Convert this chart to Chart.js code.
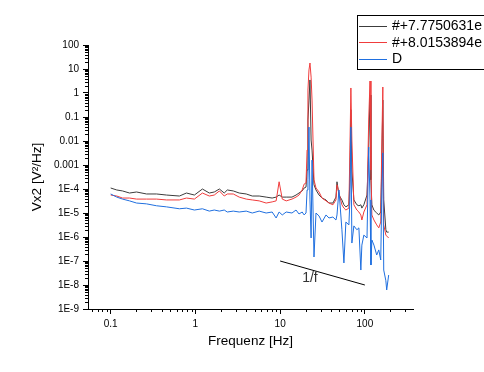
<!DOCTYPE html>
<html><head><meta charset="utf-8">
<script src="https://cdn.jsdelivr.net/npm/chart.js@4.4.0/dist/chart.umd.min.js"></script>
<style>html,body{margin:0;padding:0;background:#fff;overflow:hidden}#wrap{position:relative;width:484px;height:372px;overflow:hidden}</style>
</head><body><div id="wrap"><canvas id="c" width="484" height="372"></canvas></div>
<script>
// Frequencies (Hz), shared by the three spectra
const freq = [0.100,0.118,0.138,0.167,0.202,0.265,0.348,0.456,0.648,0.784,
  0.973,1.21,1.46,1.67,1.92,2.19,2.38,2.80,3.29,3.98,
  4.69,5.66,6.84,8.05,8.97,9.73,10.6,11.8,13.8,15.4,
  16.7,18.2,19.2,20.2,20.8,21.3,21.9,22.5,23.2,23.8,
  25.1,26.5,28.8,31.2,34.8,37.7,42.0,45.6,46.9,49.5,
  53.6,56.6,59.7,64.8,66.6,68.4,70.3,74.2,80.5,85.0,
  89.7,92.2,97.3,106,111,115,118,121,128,138,
  146,154,158,163,167,177,181,191];
const seriesBlack = [1.1e-4,9.1e-5,8.3e-5,6.8e-5,7.5e-5,6.2e-5,6.2e-5,5.6e-5,5.1e-5,6.8e-5,
  5.6e-5,1.0e-4,6.8e-5,7.5e-5,1.0e-4,6.8e-5,9.1e-5,8.3e-5,6.8e-5,6.2e-5,
  5.1e-5,5.1e-5,4.6e-5,4.2e-5,4.6e-5,5.6e-5,4.6e-5,4.6e-5,4.6e-5,5.6e-5,
  6.8e-5,8.3e-5,1.1e-4,1.2e-4,6.2e-4,0.075,0.51,3.5,0.011,0.0042,
  1.5e-4,9.1e-5,5.6e-5,4.2e-5,3.5e-5,2.6e-5,2.6e-5,4.6e-5,2.0e-4,5.6e-5,
  3.5e-5,2.2e-5,1.8e-5,2.2e-5,2.4e-4,0.2,6.2e-4,3.5e-5,2.2e-5,2.0e-5,
  2.2e-5,1.6e-5,2.2e-5,5.6e-5,0.0042,0.82,2.4e-4,2.2e-5,1.3e-5,1.0e-5,
  8.3e-6,1.1e-5,6.2e-4,0.51,3.5e-5,2.0e-6,1.6e-6,1.6e-6];
const seriesRed = [5.6e-5,5.1e-5,4.2e-5,4.2e-5,3.8e-5,3.8e-5,3.8e-5,3.5e-5,3.5e-5,4.2e-5,
  3.8e-5,6.8e-5,5.1e-5,5.6e-5,8.3e-5,5.1e-5,6.2e-5,6.2e-5,4.6e-5,3.8e-5,
  3.5e-5,3.2e-5,2.6e-5,2.9e-5,3.2e-5,2.0e-4,3.8e-5,3.2e-5,3.8e-5,4.6e-5,
  5.6e-5,9.1e-5,1.6e-4,1.8e-4,0.0042,1.33,9.1,17.8,4.6,0.51,
  2.4e-4,1.1e-4,7.5e-5,4.2e-5,3.2e-5,2.6e-5,2.2e-5,3.5e-5,1.5e-4,6.8e-5,
  2.2e-5,1.6e-5,1.33e-5,1.6e-5,0.0042,1.62,0.011,2.2e-5,1.33e-5,1.1e-5,
  8.3e-6,5.1e-6,1.1e-5,2.2e-5,0.075,3.16,6.2e-4,8.3e-6,5.1e-6,3.2e-6,
  2.4e-6,4.2e-6,0.0042,1.78,3.2e-6,1.2e-6,1.1e-6,9.1e-7];
const seriesBlue = [6.2e-5,4.6e-5,3.8e-5,3.2e-5,2.6e-5,2.4e-5,2.0e-5,1.8e-5,1.5e-5,1.6e-5,
  1.33e-5,1.5e-5,1.2e-5,1.33e-5,1.2e-5,1.33e-5,1.1e-5,1.2e-5,1.1e-5,1.2e-5,
  1.0e-5,1.2e-5,1.0e-5,1.1e-5,6.2e-6,1.1e-5,8.3e-6,1.1e-5,1.0e-5,1.33e-5,
  9.1e-6,1.1e-5,8.3e-6,1.0e-5,9.1e-5,2.4e-4,0.038,3.5e-5,9.1e-7,0.0016,
  1.47e-7,1.0e-5,7.5e-6,4.2e-6,8.3e-6,6.2e-6,6.8e-6,5.1e-6,8.3e-6,9.1e-5,
  2.0e-6,8.3e-8,4.2e-6,3.2e-6,3.5e-5,0.038,5.6e-7,2.9e-6,2.0e-6,2.4e-6,
  4.2e-8,4.6e-7,1.2e-6,9.1e-7,0.0056,3.5e-5,6.8e-8,7.5e-7,4.6e-7,1.78e-7,
  2.9e-7,1.1e-7,3.5e-5,0.0032,4.2e-8,1.5e-8,6.2e-9,2.6e-8];
const seriesLabels = ['#+7.7750631e', '#+8.0153894e', 'D'];
const seriesColors = ['#3c3c3c', '#f03c3c', '#1f6fdf'];
const xTickValues = [0.1, 1, 10, 100];
const xTickLabels = ['0.1', '1', '10', '100'];
const yTickValues = [1e-9,1e-8,1e-7,1e-6,1e-5,1e-4,1e-3,1e-2,1e-1,1,10,100];
const yTickLabels = ['1E-9','1E-8','1E-7','1E-6','1E-5','1E-4','0.001','0.01','0.1','1','10','100'];
const slopeFreq = [10, 100];
const slopeVal = [1e-7, 1e-8];
const slopeLabel = '1/f';
const slopeLabelAt = [22.5, 2.0e-8];

const FONT = "Arial, 'Liberation Sans', sans-serif";
const toPts = vals => freq.map((f, i) => ({x: f, y: vals[i]}));

const minorTicks = {id: 'minorTicks', afterDraw(chart) {
  const ctx = chart.ctx, xs = chart.scales.x, ys = chart.scales.y;
  ctx.save(); ctx.strokeStyle = '#000'; ctx.lineWidth = 1; ctx.beginPath();
  for (let k = -2; k <= 2; k++) for (let m = 2; m <= 9; m++) {
    const v = m * Math.pow(10, k); if (v < xs.min || v > xs.max) continue;
    const px = Math.round(xs.getPixelForValue(v)) + 0.5;
    ctx.moveTo(px, xs.top); ctx.lineTo(px, xs.top + 3);
  }
  for (let k = -9; k <= 1; k++) for (let m = 2; m <= 9; m++) {
    const v = m * Math.pow(10, k); if (v < ys.min || v > ys.max) continue;
    const py = Math.round(ys.getPixelForValue(v)) + 0.5;
    ctx.moveTo(ys.right, py); ctx.lineTo(ys.right - 3, py);
  }
  ctx.stroke(); ctx.restore();
}};

const slopeText = {id: 'slopeText', afterDatasetsDraw(chart) {
  const ctx = chart.ctx, xs = chart.scales.x, ys = chart.scales.y;
  ctx.save(); ctx.font = '14px ' + FONT; ctx.fillStyle = '#333';
  ctx.textAlign = 'center'; ctx.textBaseline = 'middle';
  ctx.fillText(slopeLabel, xs.getPixelForValue(slopeLabelAt[0]), ys.getPixelForValue(slopeLabelAt[1]));
  ctx.restore();
}};

const legendBox = {id: 'legendBox', afterDraw(chart) {
  const ctx = chart.ctx; ctx.save();
  const bx = 357.5, by = 15.5, bw = 140, bh = 54;
  ctx.fillStyle = '#fff'; ctx.fillRect(bx, by, bw, bh);
  ctx.strokeStyle = '#000'; ctx.lineWidth = 1; ctx.strokeRect(bx, by, bw, bh);
  ctx.font = '14px ' + FONT; ctx.textBaseline = 'middle'; ctx.textAlign = 'left';
  seriesLabels.forEach((t, i) => {
    const y = 25.5 + i * 16.8;
    ctx.strokeStyle = seriesColors[i]; ctx.beginPath();
    ctx.moveTo(359, Math.round(y) + 0.5); ctx.lineTo(387, Math.round(y) + 0.5); ctx.stroke();
    ctx.fillStyle = '#000'; ctx.fillText(t, 392, y + 0.5);
  });
  ctx.restore();
}};

new Chart(document.getElementById('c'), {
  type: 'line',
  data: {datasets: [
    {label: seriesLabels[0], data: toPts(seriesBlack), borderColor: seriesColors[0], order: 3},
    {label: seriesLabels[1], data: toPts(seriesRed), borderColor: seriesColors[1], order: 2},
    {label: seriesLabels[2], data: toPts(seriesBlue), borderColor: seriesColors[2], order: 1},
    {label: slopeLabel, data: slopeFreq.map((f, i) => ({x: f, y: slopeVal[i]})), borderColor: '#000', order: 0}
  ]},
  options: {
    responsive: false, animation: false, events: [],
    datasets: {line: {borderWidth: 1, pointRadius: 0, tension: 0, fill: false, borderJoinStyle: 'bevel'}},
    layout: {padding: {left: 0, top: 45, right: 71, bottom: 0}},
    plugins: {legend: {display: false}, tooltip: {enabled: false}},
    scales: {
      x: {
        type: 'logarithmic', position: 'bottom', min: 0.054, max: 370,
        afterBuildTicks: s => { s.ticks = xTickValues.map(v => ({value: v})); },
        afterFit: s => { s.height = 63; },
        ticks: {autoSkip: false, maxRotation: 0, padding: 4, color: '#000', font: {family: FONT, size: 10},
          callback: (v, i) => xTickLabels[i]},
        grid: {drawOnChartArea: false, drawTicks: true, tickLength: 5, tickColor: '#000', tickWidth: 1},
        border: {display: true, color: '#000', width: 1},
        title: {display: true, text: 'Frequenz [Hz]', color: '#000', font: {family: FONT, size: 13.5},
          padding: {top: 0, bottom: 22.5}}
      },
      y: {
        type: 'logarithmic', position: 'left', min: 1e-9, max: 100,
        afterBuildTicks: s => { s.ticks = yTickValues.map(v => ({value: v})); },
        afterFit: s => { s.width = 88; },
        ticks: {autoSkip: false, padding: 4, color: '#000', font: {family: FONT, size: 10},
          callback: (v, i) => yTickLabels[i]},
        grid: {drawOnChartArea: false, drawTicks: true, tickLength: 5, tickColor: '#000', tickWidth: 1},
        border: {display: true, color: '#000', width: 1},
        title: {display: true, text: 'Vx2 [V²/Hz]', color: '#000', font: {family: FONT, size: 13.5},
          padding: {top: 29, bottom: 0}}
      }
    }
  },
  plugins: [minorTicks, slopeText, legendBox]
});
</script></body></html>
